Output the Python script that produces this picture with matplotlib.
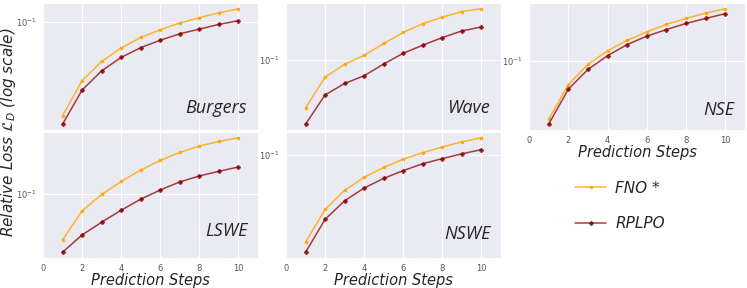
import numpy as np
import matplotlib.pyplot as plt
import seaborn as sns
from matplotlib.ticker import NullFormatter, LogLocator

sns.set_style('darkgrid')

steps = np.arange(1, 11)

# relative loss per prediction step
burgers_fno = [0.0156, 0.0313, 0.0458, 0.0598, 0.0736, 0.0858, 0.0980, 0.109, 0.120, 0.130]
burgers_rplpo = [0.0132, 0.0260, 0.0380, 0.0496, 0.0602, 0.0697, 0.0792, 0.0869, 0.0954, 0.1027]

wave_fno = [0.0388, 0.0716, 0.0923, 0.1105, 0.1396, 0.174, 0.207, 0.235, 0.263, 0.278]
wave_rplpo = [0.0281, 0.0503, 0.0631, 0.0736, 0.0929, 0.115, 0.135, 0.157, 0.179, 0.194]

nse_fno = [0.0311, 0.0623, 0.0929, 0.122, 0.150, 0.1775, 0.206, 0.232, 0.258, 0.281]
nse_rplpo = [0.0283, 0.0567, 0.0841, 0.1105, 0.138, 0.163, 0.186, 0.210, 0.232, 0.255]

lswe_fno = [0.0398, 0.0712, 0.0987, 0.128, 0.161, 0.195, 0.229, 0.260, 0.285, 0.307]
lswe_rplpo = [0.0311, 0.0440, 0.0567, 0.0721, 0.0899, 0.108, 0.127, 0.143, 0.157, 0.171]

nswe_fno = [0.0176, 0.0339, 0.0496, 0.0644, 0.0786, 0.0923, 0.1055, 0.118, 0.131, 0.142]
nswe_rplpo = [0.0144, 0.0278, 0.0403, 0.0520, 0.0631, 0.0736, 0.0846, 0.0936, 0.103, 0.112]

panels = ['Burgers', 'Wave', 'NSE', 'LSWE', 'NSWE']
fno_data = [burgers_fno, wave_fno, nse_fno, lswe_fno, nswe_fno]
rplpo_data = [burgers_rplpo, wave_rplpo, nse_rplpo, lswe_rplpo, nswe_rplpo]
xticks = [0, 2, 4, 6, 8, 10]

fig = plt.figure(figsize=(7.47, 2.88), dpi=100)

W, H = 747.0, 288.0
# axes boxes in pixels: left, top, width, height
boxes = [(43, 3, 215, 127), (286, 3, 215, 127), (529, 3, 216, 127),
         (43, 132, 215, 126), (286, 132, 215, 126)]
label_y = [0.10, 0.10, 0.09, 0.14, 0.12]
show_xlabel = [False, False, True, True, True]

lab_font = dict(family='Open Sans', style='italic')

for i, name in enumerate(panels):
    l, t, w, h = boxes[i]
    ax = fig.add_axes([l / W, 1 - (t + h) / H, w / W, h / H])
    ax.plot(steps, fno_data[i], color='orange', alpha=0.8, lw=1.1,
            marker='s', ms=2, label='FNO *')
    ax.plot(steps, rplpo_data[i], color='darkred', alpha=0.75, lw=1.1,
            marker='P', ms=2.5, label='RPLPO')
    ax.set_yscale('log')
    ax.yaxis.set_major_locator(LogLocator(base=10))
    ax.yaxis.set_minor_formatter(NullFormatter())
    ax.set_xlim(0, 11)
    ax.set_xticks(xticks)
    ax.tick_params(labelsize=6, colors='#555555', pad=1)
    if show_xlabel[i]:
        ax.set_xlabel('Prediction Steps', fontsize=10.5, style='italic', labelpad=0)
    else:
        ax.set_xticklabels([])
    ax.text(0.95, label_y[i], name, transform=ax.transAxes, ha='right',
            va='bottom', fontsize=13, **lab_font)

fig.text(0.011, 0.54, r'Relative Loss $\mathcal{L}_D$ (log scale)', rotation=90,
         va='center', ha='center', fontsize=11, style='italic')

handles, labels = ax.get_legend_handles_labels()
fig.legend(handles, labels, loc='upper left', bbox_to_anchor=(0.752, 0.42),
           frameon=False, labelspacing=1.35, handlelength=2.0,
           handletextpad=0.6, prop=dict(style='italic', size=11))

fig.savefig('out.png', dpi=100)
